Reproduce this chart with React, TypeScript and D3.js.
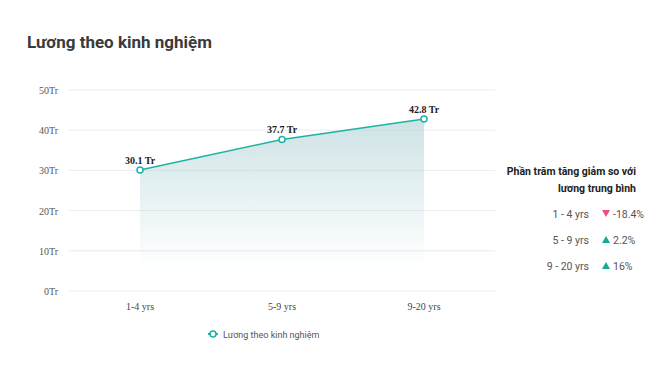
import React from "react";
import * as d3 from "d3";

const categories = ["1-4 yrs", "5-9 yrs", "9-20 yrs"];
const salaries = [30.1, 37.7, 42.8];
const yTicks = [0, 10, 20, 30, 40, 50];
const compareLabels = ["1 - 4 yrs", "5 - 9 yrs", "9 - 20 yrs"];
const compareValues = [-18.4, 2.2, 16];
const compareTexts = ["-18.4%", "2.2%", "16%"];

const W = 664;
const H = 381;
const plotLeft = 69;
const plotRight = 495;
const plotTop = 90;
const plotBottom = 291;
const lineColor = "#1db3a3";

export default function App() {
  const x = d3.scaleBand<string>().domain(categories).range([plotLeft, plotRight]);
  const y = d3.scaleLinear().domain([0, 50]).range([plotBottom, plotTop]);
  const cx = (c: string) => (x(c) as number) + x.bandwidth() / 2;
  const pts = categories.map((c, i) => ({ c, v: salaries[i] }));
  const line = d3.line<{ c: string; v: number }>().x((d) => cx(d.c)).y((d) => y(d.v));
  const area = d3
    .area<{ c: string; v: number }>()
    .x((d) => cx(d.c))
    .y0(y(0))
    .y1((d) => y(d.v));

  return (
    <svg width={W} height={H} style={{ position: "absolute", left: 0, top: 0, background: "#fff" }}>
      <defs>
        <linearGradient id="areaGrad" x1="0" y1="0" x2="0" y2="1" gradientUnits="objectBoundingBox">
          <stop offset="0%" stopColor="#b3d3d8" stopOpacity={0.65} />
          <stop offset="75%" stopColor="#b3d3d8" stopOpacity={0.08} />
          <stop offset="100%" stopColor="#ffffff" stopOpacity={0} />
        </linearGradient>
      </defs>
      <text x={27} y={48} fontFamily="Roboto, sans-serif" fontWeight={700} fontSize={17} fill="#3a3a3a">
        Lương theo kinh nghiệm
      </text>
      {yTicks.map((t) => (
        <g key={t}>
          <line x1={plotLeft} x2={plotRight} y1={y(t)} y2={y(t)} stroke="#ececec" strokeWidth={1} />
          <text
            x={58}
            y={y(t) + 4}
            textAnchor="end"
            fontFamily="'Liberation Serif', 'Times New Roman', serif"
            fontSize={10}
            fill="#555"
          >
            {t}Tr
          </text>
        </g>
      ))}
      <path d={area(pts) || ""} fill="url(#areaGrad)" />
      <path d={line(pts) || ""} fill="none" stroke={lineColor} strokeWidth={1.6} />
      {pts.map((p) => (
        <g key={p.c}>
          <circle cx={cx(p.c)} cy={y(p.v)} r={3} fill="#fff" stroke={lineColor} strokeWidth={1.5} />
          <text
            x={cx(p.c)}
            y={y(p.v) - 6}
            textAnchor="middle"
            fontFamily="'Liberation Serif', 'Times New Roman', serif"
            fontWeight={700}
            fontSize={10}
            fill="#222"
          >
            {p.v.toFixed(1)} Tr
          </text>
          <text
            x={cx(p.c)}
            y={310}
            textAnchor="middle"
            fontFamily="'Liberation Serif', 'Times New Roman', serif"
            fontSize={10}
            fill="#444"
          >
            {p.c}
          </text>
        </g>
      ))}
      <g>
        <line x1={208} x2={218} y1={334} y2={334} stroke={lineColor} strokeWidth={2} />
        <circle cx={213} cy={334} r={3} fill="#fff" stroke={lineColor} strokeWidth={1.6} />
        <text x={223} y={337.5} fontFamily="Roboto, sans-serif" fontSize={9} fill="#555">
          Lương theo kinh nghiệm
        </text>
      </g>
      <g fontFamily="Roboto, sans-serif">
        <text x={636} y={175} textAnchor="end" fontWeight={700} fontSize={10.5} fill="#222">
          Phần trăm tăng giảm so với
        </text>
        <text x={636} y={192} textAnchor="end" fontWeight={700} fontSize={10.5} fill="#222">
          lương trung bình
        </text>
        {compareLabels.map((l, i) => {
          const ry = 214 + i * 26;
          const up = compareValues[i] >= 0;
          const tx = 606;
          const tri = up
            ? `M${tx - 4},${ry + 3} L${tx + 4},${ry + 3} L${tx},${ry - 4} Z`
            : `M${tx - 4},${ry - 4} L${tx + 4},${ry - 4} L${tx},${ry + 3} Z`;
          return (
            <g key={l}>
              <text x={589} y={ry + 4} textAnchor="end" fontSize={10.5} fill="#555">
                {l}
              </text>
              <path d={tri} fill={up ? "#1aa897" : "#ee4f7c"} />
              <text x={613} y={ry + 4} fontSize={10.5} fill="#555">
                {compareTexts[i]}
              </text>
            </g>
          );
        })}
      </g>
    </svg>
  );
}
